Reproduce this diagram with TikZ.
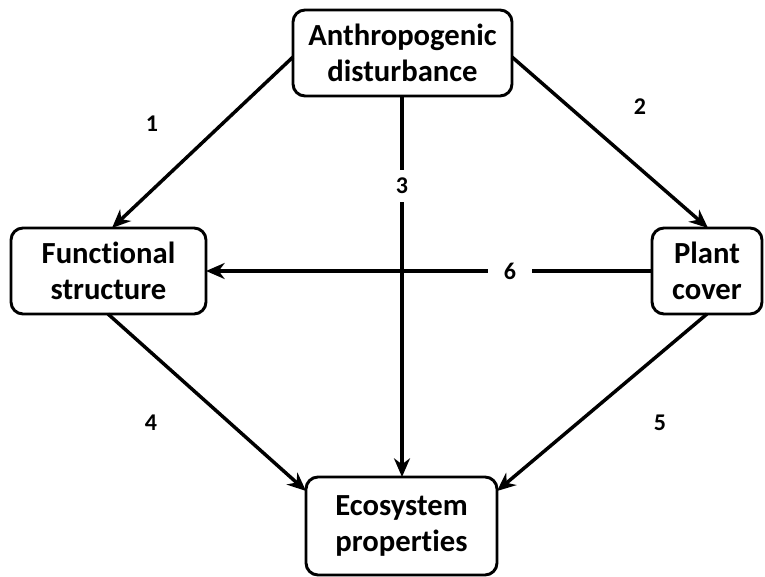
\documentclass[tikz,border=0pt]{standalone}
\usepackage{fontspec}
\setmainfont[Ligatures=NoCommon]{Carlito}
\usetikzlibrary{arrows.meta}
\begin{document}
\begin{tikzpicture}[x=0.75pt,y=-0.75pt,
  box/.style={draw=black,line width=2.2pt,rounded corners=9pt,fill=white,align=center,
    font=\fontsize{23}{27}\selectfont\bfseries,inner sep=0pt},
  conn/.style={line width=2.6pt,-{Stealth[length=14pt,width=12pt,inset=4.5pt]}},
  lbl/.style={font=\fontsize{18}{20}\selectfont\bfseries,fill=white,inner sep=3pt}]
\useasboundingbox (0,0) rectangle (765,577);
\node[box,minimum width=219*0.75pt,minimum height=86*0.75pt] (A) at (402.5,53) {Anthropogenic\\disturbance};
\node[box,minimum width=195*0.75pt,minimum height=86*0.75pt] (F) at (108.5,271) {Functional\\structure};
\node[box,minimum width=110*0.75pt,minimum height=86*0.75pt] (P) at (707,271) {Plant\\cover};
\node[box,minimum width=191*0.75pt,minimum height=98*0.75pt] (E) at (401.5,526) {Ecosystem\\properties};
\coordinate (a1) at (293,57);
\coordinate (f1) at (112,228);
\coordinate (a2) at (512,57);
\coordinate (p2) at (708,228);
\coordinate (a3) at (402,96);
\coordinate (e3) at (402,477);
\coordinate (f4) at (108,314);
\coordinate (e4) at (306,491);
\coordinate (p5) at (707,314);
\coordinate (e5) at (497,491);
\coordinate (p6) at (652,271);
\coordinate (f6) at (206,271);
\draw[conn] (a1) -- (f1);
\draw[conn] (a2) -- (p2);
\draw[conn] (a3) -- (e3);
\draw[conn] (f4) -- (e4);
\draw[conn] (p5) -- (e5);
\draw[conn] (p6) -- (f6);
\node[lbl,fill=none] (l1) at (152,124) {1};
\node[lbl,fill=none] (l2) at (640,107) {2};
\node[lbl,inner xsep=5pt,inner ysep=6pt] (l3) at (402,186) {3};
\node[lbl,fill=none] (l4) at (151,423) {4};
\node[lbl,fill=none] (l5) at (660,423) {5};
\node[lbl,inner xsep=12pt] (l6) at (510,271) {6};
\end{tikzpicture}
\end{document}
